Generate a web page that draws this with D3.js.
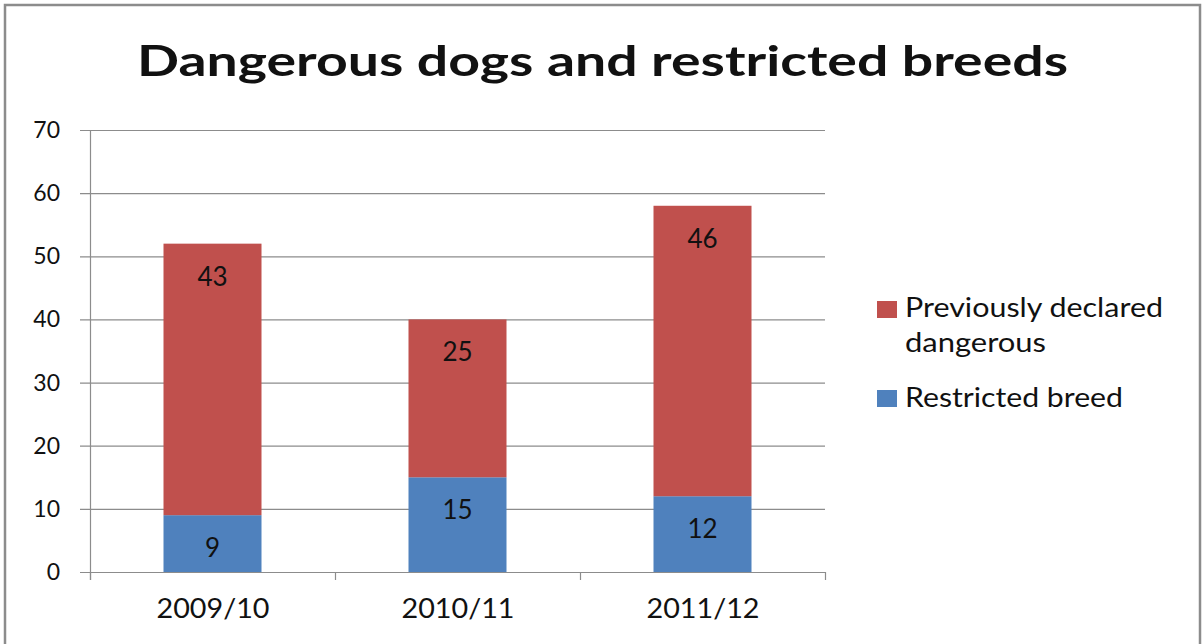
<!DOCTYPE html>
<html>
<head>
<meta charset="utf-8">
<script src="https://cdn.jsdelivr.net/npm/d3@7"></script>
<style>
  html, body { margin: 0; padding: 0; background: #fff; }
  svg { display: block; }
  text { font-family: Lato, "Open Sans", sans-serif; fill: #111; }
</style>
</head>
<body>
<svg id="chart" width="1204" height="644"></svg>
<script>
const categories = ["2009/10", "2010/11", "2011/12"];
const restricted = [9, 15, 12];
const declared = [43, 25, 46];
const seriesNames = ["Restricted breed", "Previously declared dangerous"];
const yTicks = [0, 10, 20, 30, 40, 50, 60, 70];
const colors = ["#4F81BD", "#C0504D"];

const svg = d3.select("#chart");

// widen a text element's glyphs to a given width (wide Calibri-style rendering)
function stretch(sel, w) {
  sel.attr("textLength", w).attr("lengthAdjust", "spacingAndGlyphs");
}

// outer chart frame
svg.append("rect")
  .attr("x", 5).attr("y", 5).attr("width", 1195).attr("height", 645)
  .attr("fill", "#fff").attr("stroke", "#8c8c8c").attr("stroke-width", 2.5);

svg.append("text")
  .attr("x", 137).attr("y", 76)
  .attr("font-size", 42).attr("font-weight", "bold")
  .attr("fill", "#000")
  .text("Dangerous dogs and restricted breeds")
  .call(stretch, 931);

const plot = { left: 90, right: 825, top: 130, bottom: 572 };

const x = d3.scaleBand().domain(categories)
  .range([plot.left, plot.right]).paddingInner(0.6).paddingOuter(0.3);
const y = d3.scaleLinear().domain([0, 70]).range([plot.bottom, plot.top]);

// gridlines
svg.append("g").selectAll("line").data(yTicks).join("line")
  .attr("x1", plot.left - 10).attr("x2", plot.right)
  .attr("y1", d => y(d) + 0.5).attr("y2", d => y(d) + 0.5)
  .attr("stroke", "#8c8c8c").attr("stroke-width", 1.2);

// y axis line and labels
svg.append("line")
  .attr("x1", plot.left + 0.5).attr("x2", plot.left + 0.5)
  .attr("y1", plot.top).attr("y2", plot.bottom + 8)
  .attr("stroke", "#8c8c8c").attr("stroke-width", 1.2);

svg.append("g").selectAll("text").data(yTicks).join("text")
  .attr("x", 60).attr("y", d => y(d) + 8)
  .attr("text-anchor", "end").attr("font-size", 23)
  .text(d => d);

// x-axis category boundary ticks
const step = x.step();
const bounds = d3.range(categories.length + 1).map(i => plot.left + i * step);
svg.append("g").selectAll("line").data(bounds).join("line")
  .attr("x1", d => d + 0.5).attr("x2", d => d + 0.5)
  .attr("y1", plot.bottom).attr("y2", plot.bottom + 8)
  .attr("stroke", "#8c8c8c").attr("stroke-width", 1.2);

svg.append("g").selectAll("text").data(categories).join("text")
  .attr("x", d => x(d) + x.bandwidth() / 2 - 56).attr("y", 618)
  .attr("font-size", 26)
  .text(d => d)
  .call(stretch, 113);

// stacked bars
const rows = categories.map((c, i) => ({ cat: c, restricted: restricted[i], declared: declared[i] }));
const stack = d3.stack().keys(["restricted", "declared"])(rows);

const layers = svg.append("g").selectAll("g").data(stack).join("g")
  .attr("fill", (d, i) => colors[i]);

layers.selectAll("rect").data(d => d).join("rect")
  .attr("x", d => x(d.data.cat))
  .attr("width", x.bandwidth())
  .attr("y", d => y(d[1]))
  .attr("height", d => y(d[0]) - y(d[1]));

// value labels sit just inside the top of each segment
layers.selectAll("text").data(d => d).join("text")
  .attr("x", d => x(d.data.cat) + x.bandwidth() / 2)
  .attr("y", d => y(d[1]) + 42)
  .attr("text-anchor", "middle").attr("font-size", 26)
  .attr("fill", "#111")
  .text(d => d[1] - d[0]);

// legend
const legend = svg.append("g");
legend.append("rect").attr("x", 877).attr("y", 301).attr("width", 20).attr("height", 17).attr("fill", colors[1]);
legend.append("text").attr("x", 905).attr("y", 317).attr("font-size", 26).text("Previously declared").call(stretch, 258);
legend.append("text").attr("x", 905).attr("y", 352).attr("font-size", 26).text("dangerous").call(stretch, 141);
legend.append("rect").attr("x", 877).attr("y", 390).attr("width", 20).attr("height", 17).attr("fill", colors[0]);
legend.append("text").attr("x", 905).attr("y", 407).attr("font-size", 26).text(seriesNames[0]).call(stretch, 218);
</script>
</body>
</html>
